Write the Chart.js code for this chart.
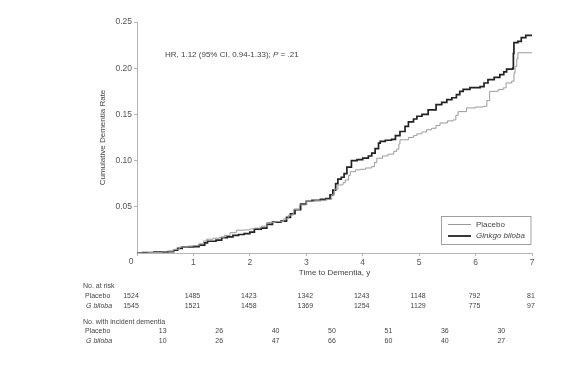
<!DOCTYPE html>
<html>
<head>
<meta charset="utf-8">
<script src="https://cdn.jsdelivr.net/npm/chart.js@4.4.1/dist/chart.umd.min.js"></script>
<style>
  html, body { margin: 0; padding: 0; background: #fff; }
</style>
</head>
<body>
<canvas id="km" width="584" height="371"></canvas>
<script>
// x ticks (years) and y ticks (cumulative rate)
const yearTicks = [0, 1, 2, 3, 4, 5, 6, 7];
const rateTicks = [0.05, 0.10, 0.15, 0.20, 0.25];

// Placebo curve
const placeboTime = [0, 0.2, 0.45, 0.57, 0.65, 0.75, 0.9, 1.0, 1.1, 1.18, 1.23, 1.35, 1.46, 1.55, 1.65, 1.76, 1.9, 2.0, 2.08, 2.2, 2.3, 2.45, 2.6, 2.68, 2.77, 2.88, 3.0, 3.15, 3.35, 3.45, 3.5, 3.56, 3.65, 3.69, 3.75, 3.78, 3.87, 3.95, 4.05, 4.16, 4.21, 4.25, 4.35, 4.45, 4.55, 4.6, 4.64, 4.66, 4.81, 4.9, 4.96, 5.05, 5.13, 5.22, 5.3, 5.37, 5.5, 5.6, 5.65, 5.69, 5.84, 6.0, 6.13, 6.2, 6.25, 6.4, 6.49, 6.54, 6.64, 6.68, 6.7, 6.73, 6.75, 7.0];
const placeboRate = [0, 0.0005, 0.001, 0.002, 0.004, 0.0065, 0.0075, 0.008, 0.010, 0.013, 0.0149, 0.016, 0.017, 0.019, 0.022, 0.0247, 0.025, 0.026, 0.027, 0.029, 0.033, 0.034, 0.037, 0.041, 0.047, 0.052, 0.056, 0.057, 0.058, 0.063, 0.069, 0.0736, 0.076, 0.079, 0.084, 0.088, 0.090, 0.0906, 0.092, 0.0935, 0.098, 0.1026, 0.105, 0.107, 0.110, 0.1124, 0.118, 0.1225, 0.125, 0.127, 0.129, 0.131, 0.1334, 0.135, 0.138, 0.1407, 0.143, 0.144, 0.149, 0.153, 0.157, 0.158, 0.1587, 0.165, 0.175, 0.177, 0.1787, 0.184, 0.186, 0.195, 0.202, 0.210, 0.2167, 0.2167];

// Ginkgo biloba curve
const ginkgoTime = [0, 0.1, 0.3, 0.55, 0.65, 0.72, 0.8, 1.0, 1.1, 1.2, 1.25, 1.4, 1.5, 1.6, 1.7, 1.8, 1.9, 2.0, 2.08, 2.2, 2.3, 2.4, 2.55, 2.65, 2.72, 2.8, 2.9, 3.0, 3.1, 3.25, 3.35, 3.42, 3.47, 3.52, 3.56, 3.62, 3.67, 3.72, 3.8, 3.9, 4.0, 4.1, 4.16, 4.22, 4.28, 4.31, 4.4, 4.51, 4.58, 4.66, 4.75, 4.81, 4.9, 4.96, 5.05, 5.16, 5.3, 5.4, 5.49, 5.58, 5.66, 5.72, 5.78, 5.9, 6.08, 6.15, 6.22, 6.33, 6.43, 6.5, 6.55, 6.66, 6.67, 6.68, 6.75, 6.81, 6.89, 7.0];
const ginkgoRate = [0, 0.0005, 0.001, 0.0015, 0.003, 0.005, 0.0065, 0.007, 0.0085, 0.011, 0.0127, 0.014, 0.0167, 0.0175, 0.019, 0.020, 0.021, 0.0225, 0.0258, 0.027, 0.031, 0.0335, 0.0345, 0.0385, 0.0425, 0.047, 0.053, 0.056, 0.057, 0.058, 0.059, 0.063, 0.068, 0.075, 0.080, 0.082, 0.086, 0.093, 0.100, 0.101, 0.1026, 0.105, 0.108, 0.113, 0.119, 0.1207, 0.122, 0.123, 0.127, 0.1315, 0.137, 0.142, 0.145, 0.148, 0.150, 0.155, 0.1605, 0.163, 0.166, 0.168, 0.1714, 0.175, 0.177, 0.179, 0.180, 0.184, 0.1877, 0.190, 0.193, 0.196, 0.199, 0.200, 0.216, 0.2276, 0.229, 0.233, 0.2355, 0.2355];

// numbers under the plot
const atRiskPlacebo = [1524, 1485, 1423, 1342, 1243, 1148, 792, 81];
const atRiskGinkgo = [1545, 1521, 1458, 1369, 1254, 1129, 775, 97];
const incidentPlacebo = [13, 26, 40, 50, 51, 36, 30];
const incidentGinkgo = [10, 26, 47, 66, 60, 40, 27];

const FONT = '"Liberation Sans", Arial, sans-serif';
const AXIS = '#b4b4b4';

function toPoints(xs, ys) {
  return xs.map((x, i) => ({ x: x, y: ys[i] }));
}

// annotation, axis titles, legend and risk table
const extras = {
  id: 'extras',
  afterDraw(chart) {
    const ctx = chart.ctx;
    const area = chart.chartArea;
    const xs = chart.scales.x;
    ctx.save();

    // shared origin label
    ctx.fillStyle = '#555';
    ctx.font = '8.5px ' + FONT;
    ctx.textAlign = 'center';
    ctx.textBaseline = 'middle';
    ctx.fillText('0', area.left - 6, 262);

    // axis titles
    ctx.fillStyle = '#444';
    ctx.font = '8px ' + FONT;
    ctx.fillText('Time to Dementia, y', (area.left + area.right) / 2, 273);
    ctx.save();
    ctx.translate(103, (area.top + area.bottom) / 2);
    ctx.rotate(-Math.PI / 2);
    ctx.fillText('Cumulative Dementia Rate', 0, 0);
    ctx.restore();

    // HR annotation with italic P
    ctx.textAlign = 'left';
    let x = 165;
    const parts = [['HR, 1.12 (95% CI, 0.94-1.33); ', ''], ['P', 'italic '], [' = .21', '']];
    parts.forEach(([t, st]) => {
      ctx.font = st + '8px ' + FONT;
      ctx.fillText(t, x, 55);
      x += ctx.measureText(t).width;
    });

    // legend
    ctx.strokeStyle = '#a0a0a0';
    ctx.lineWidth = 1;
    ctx.strokeRect(441.5, 216.5, 89.5, 28);
    ctx.strokeStyle = '#999';
    ctx.beginPath(); ctx.moveTo(448, 224.5); ctx.lineTo(471, 224.5); ctx.stroke();
    ctx.strokeStyle = '#222';
    ctx.lineWidth = 1.8;
    ctx.beginPath(); ctx.moveTo(448, 236); ctx.lineTo(471, 236); ctx.stroke();
    ctx.fillStyle = '#444';
    ctx.font = '8px ' + FONT;
    ctx.fillText('Placebo', 476, 225);
    ctx.font = 'italic 8px ' + FONT;
    ctx.fillText('Ginkgo biloba', 476, 236);

    // risk table
    ctx.font = '7px ' + FONT;
    ctx.fillText('No. at risk', 83, 286);
    ctx.fillText('Placebo', 85, 296.5);
    ctx.fillText('No. with incident dementia', 83, 322.5);
    ctx.fillText('Placebo', 85, 331.5);
    ctx.font = 'italic 7px ' + FONT;
    ctx.fillText('G biloba', 86, 306);
    ctx.fillText('G biloba', 86, 341);

    ctx.font = '7px ' + FONT;
    ctx.textAlign = 'center';
    yearTicks.forEach((yr, i) => {
      const px = xs.getPixelForValue(yr) - (i === 0 ? 6 : 1);
      ctx.fillText(String(atRiskPlacebo[i]), px, 296.5);
      ctx.fillText(String(atRiskGinkgo[i]), px, 306);
    });
    incidentPlacebo.forEach((v, i) => {
      const px = xs.getPixelForValue(i + 0.5) - 2.5;
      ctx.fillText(String(v), px, 331.5);
      ctx.fillText(String(incidentGinkgo[i]), px, 341);
    });

    ctx.restore();
  }
};

new Chart(document.getElementById('km'), {
  type: 'line',
  data: {
    datasets: [
      {
        label: 'Placebo',
        data: toPoints(placeboTime, placeboRate),
        borderColor: '#9a9a9a',
        borderWidth: 1,
        stepped: true,
        pointRadius: 0,
        fill: false
      },
      {
        label: 'Ginkgo biloba',
        data: toPoints(ginkgoTime, ginkgoRate),
        borderColor: '#222',
        borderWidth: 1.7,
        stepped: true,
        pointRadius: 0,
        fill: false
      }
    ]
  },
  options: {
    responsive: false,
    animation: false,
    devicePixelRatio: 1,
    layout: { padding: { top: 22, right: 52, left: 0, bottom: 0 } },
    plugins: {
      legend: { display: false },
      tooltip: { enabled: false }
    },
    scales: {
      x: {
        type: 'linear',
        min: 0,
        max: 7,
        afterFit: s => { s.height = 118; },
        afterBuildTicks: s => { s.ticks = yearTicks.map(v => ({ value: v })); },
        ticks: {
          color: '#555',
          font: { family: FONT, size: 8.5 },
          padding: 2,
          maxRotation: 0,
          callback: v => (v === 0 ? '' : String(v))
        },
        grid: { drawOnChartArea: false, tickLength: 3, color: AXIS },
        border: { color: AXIS, width: 1 }
      },
      y: {
        min: 0,
        max: 0.25,
        afterFit: s => { s.width = 137; },
        afterBuildTicks: s => { s.ticks = [0].concat(rateTicks).map(v => ({ value: v })); },
        ticks: {
          color: '#555',
          font: { family: FONT, size: 8.5 },
          padding: 2,
          callback: v => (v === 0 ? '' : v.toFixed(2))
        },
        grid: {
          drawOnChartArea: false,
          tickLength: 3,
          color: c => (c.tick && c.tick.value === 0 ? 'rgba(0,0,0,0)' : AXIS)
        },
        border: { color: AXIS, width: 1 }
      }
    }
  },
  plugins: [extras]
});
</script>
</body>
</html>
